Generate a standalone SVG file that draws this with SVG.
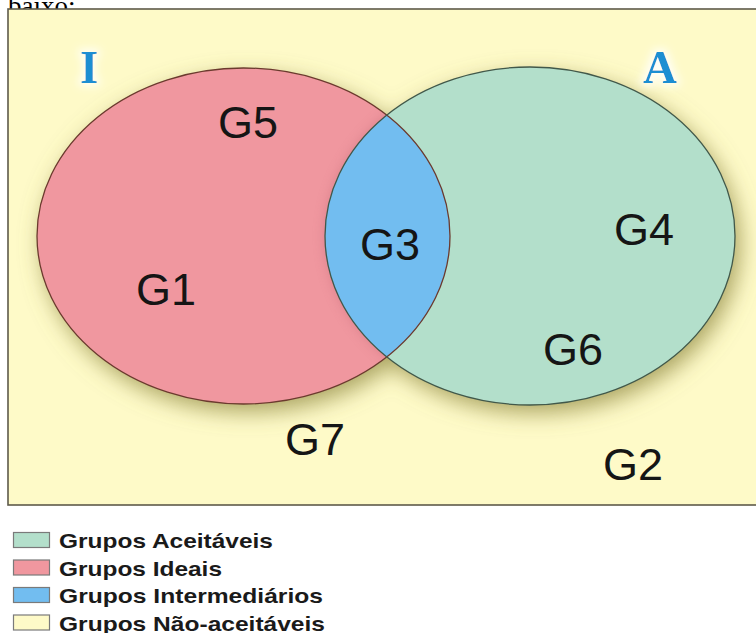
<svg xmlns="http://www.w3.org/2000/svg" width="756" height="633" viewBox="0 0 756 633">
  <style>
    .lbl { font-family: "Liberation Sans", Arial, sans-serif; font-size: 45px; fill: #151515; }
    .set { font-family: "Liberation Serif", "Times New Roman", serif; font-weight: bold; font-size: 47px; fill: #1d8ed2; }
    .leg { font-family: "Liberation Sans", Arial, sans-serif; font-weight: bold; font-size: 21px; fill: #1a1a1a; }
    .sw { stroke: #7a7a7a; stroke-width: 1.2; }
  </style>
  <defs>
    <filter id="shadow" x="-25%" y="-25%" width="150%" height="150%">
      <feGaussianBlur in="SourceAlpha" stdDeviation="11"/>
      <feOffset dx="5" dy="8" result="b"/>
      <feFlood flood-color="#8f8840" flood-opacity="0.75"/>
      <feComposite in2="b" operator="in"/>
    </filter>
    <filter id="glow" x="-50%" y="-50%" width="200%" height="200%">
      <feMorphology in="SourceAlpha" operator="dilate" radius="3" result="d"/>
      <feGaussianBlur in="d" stdDeviation="4" result="bl"/>
      <feFlood flood-color="#ffffff" flood-opacity="0.85"/>
      <feComposite operator="in" in2="bl" result="g"/>
      <feMerge><feMergeNode in="g"/><feMergeNode in="SourceGraphic"/></feMerge>
    </filter>
    <filter id="inner" x="-20%" y="-20%" width="140%" height="140%">
      <feGaussianBlur stdDeviation="6"/>
    </filter>
    <clipPath id="clipLeft">
      <ellipse cx="243.5" cy="236" rx="206.5" ry="168"/>
    </clipPath>
  </defs>

  <text x="8" y="15" font-family="Liberation Serif, Times New Roman, serif" font-size="27" fill="#000">baixo:</text>

  <g id="frame">
    <rect x="8" y="9" width="760" height="496" fill="#fefac8" stroke="#5e5a4a" stroke-width="1.6"/>
  </g>

  <g id="shadows" filter="url(#shadow)">
    <ellipse cx="243.5" cy="236" rx="206.5" ry="168" fill="#000"/>
    <ellipse cx="530" cy="236" rx="205" ry="169" fill="#000"/>
  </g>

  <g id="ideais">
    <ellipse cx="243.5" cy="236" rx="206.5" ry="168" fill="#f0979f"/>
  </g>

  <g id="aceitaveis">
    <ellipse cx="530" cy="236" rx="205" ry="169" fill="#b3dfcb"/>
  </g>

  <g id="intermediarios" clip-path="url(#clipLeft)">
    <ellipse cx="530" cy="236" rx="205" ry="169" fill="#c46a78" opacity="0.5" filter="url(#inner)"/>
    <ellipse cx="530" cy="236" rx="205" ry="169" fill="#72bdf0"/>
  </g>

  <g id="outlines" fill="none">
    <ellipse cx="243.5" cy="236" rx="206.5" ry="168" stroke="#6b3a2e" stroke-width="1.3"/>
    <ellipse cx="530" cy="236" rx="205" ry="169" stroke="#41584a" stroke-width="1.3"/>
  </g>

  <g id="set-labels" filter="url(#glow)">
    <text class="set" x="80" y="83">I</text>
    <text class="set" x="643" y="83">A</text>
  </g>

  <g id="group-labels">
    <text class="lbl" x="218" y="138">G5</text>
    <text class="lbl" x="136" y="305">G1</text>
    <text class="lbl" x="360" y="260">G3</text>
    <text class="lbl" x="614" y="245">G4</text>
    <text class="lbl" x="543" y="365">G6</text>
    <text class="lbl" x="285" y="455" textLength="60" lengthAdjust="spacingAndGlyphs">G7</text>
    <text class="lbl" x="603" y="480">G2</text>
  </g>

  <g id="legend">
    <rect class="sw" x="13.5" y="532.5" width="36" height="15" fill="#b3dfcb"/>
    <text class="leg" x="59" y="548" textLength="214" lengthAdjust="spacingAndGlyphs">Grupos Aceitáveis</text>
    <rect class="sw" x="13.5" y="560" width="36" height="15" fill="#f0979f"/>
    <text class="leg" x="59" y="575.5" textLength="163" lengthAdjust="spacingAndGlyphs">Grupos Ideais</text>
    <rect class="sw" x="13.5" y="587.5" width="36" height="15" fill="#72bdf0"/>
    <text class="leg" x="59" y="603" textLength="264" lengthAdjust="spacingAndGlyphs">Grupos Intermediários</text>
    <rect class="sw" x="13.5" y="615" width="36" height="15" fill="#fefac8"/>
    <text class="leg" x="59" y="630.5" textLength="266" lengthAdjust="spacingAndGlyphs">Grupos Não-aceitáveis</text>
  </g>
</svg>
